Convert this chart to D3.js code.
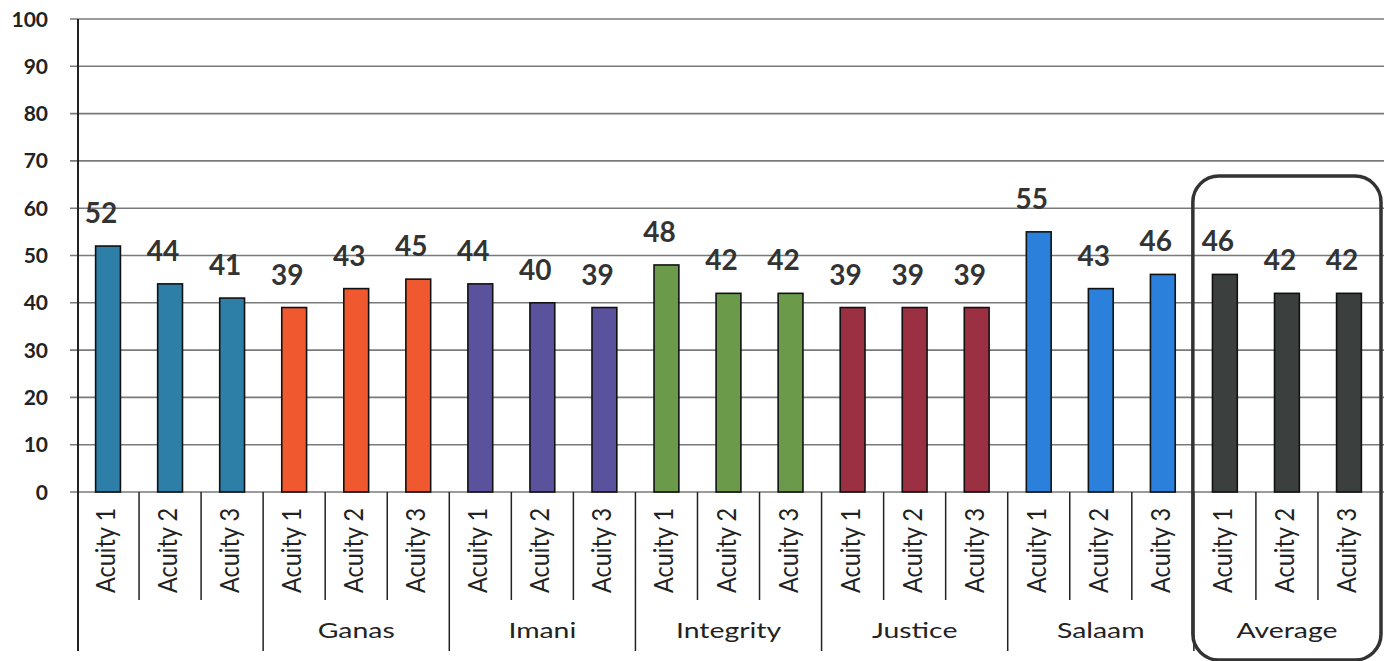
<!DOCTYPE html>
<html><head><meta charset="utf-8">
<script src="https://cdn.jsdelivr.net/npm/d3@7"></script>
<style>body{margin:0;background:#fff;}svg{display:block;font-family:Lato,"Open Sans",sans-serif;}</style>
</head><body>
<svg id="c" width="1386" height="661"></svg>
<script>
const groups = ["", "Ganas", "Imani", "Integrity", "Justice", "Salaam", "Average"];
const subcats = ["Acuity 1", "Acuity 2", "Acuity 3"];
const values = [
  [52, 44, 41],
  [39, 43, 45],
  [44, 40, 39],
  [48, 42, 42],
  [39, 39, 39],
  [55, 43, 46],
  [46, 42, 42]
];
const colors = ["#2E7FA8", "#F0582F", "#5A529C", "#6B9B4A", "#9A3041", "#2A80DA", "#3B403F"];
const yTicks = [0,10,20,30,40,50,60,70,80,90,100];

(function(){
const svg = d3.select("#c");
const mLeft = 77, mRight = 1380, mTop = 19, mBottom = 492;
const cats = [];
groups.forEach((g,gi)=>subcats.forEach((s,si)=>cats.push({g:gi, s:si, key:gi+"-"+si, label:s, v:values[gi][si]})));

const x = d3.scaleBand().domain(cats.map(d=>d.key)).range([mLeft,mRight]).paddingInner(0).paddingOuter(0);
const y = d3.scaleLinear().domain([0,100]).range([mBottom, mTop]);

svg.append("g").selectAll("line").data(yTicks).join("line")
  .attr("x1", 70).attr("x2", 1384)
  .attr("y1", d=>y(d)).attr("y2", d=>y(d))
  .attr("stroke", "#7a7a7a").attr("stroke-width", 1.6);

svg.append("g").selectAll("text").data(yTicks).join("text")
  .attr("x", 48).attr("y", d=>y(d)).attr("dy", "0.36em")
  .attr("text-anchor", "end").attr("font-weight", "bold").attr("font-size", 21)
  .attr("fill", "#222").text(d=>d);

svg.append("line").attr("x1", mLeft+1).attr("x2", mLeft+1).attr("y1", mTop).attr("y2", 651)
  .attr("stroke", "#222").attr("stroke-width", 2);

const bw = x.bandwidth()*0.4;
svg.append("g").selectAll("rect").data(cats).join("rect")
  .attr("x", d=>x(d.key)+x.bandwidth()/2-bw/2)
  .attr("width", bw)
  .attr("y", d=>y(d.v))
  .attr("height", d=>y(0)-y(d.v))
  .attr("fill", d=>colors[d.g])
  .attr("stroke", "#111").attr("stroke-width", 1.6);

svg.append("g").selectAll("text").data(cats).join("text")
  .attr("x", d=>x(d.key)+x.bandwidth()/2-7)
  .attr("y", d=>y(d.v)-23)
  .attr("text-anchor", "middle").attr("font-weight", "bold").attr("font-size", 28)
  .attr("fill", "#333").text(d=>d.v);

const bounds = d3.range(1, cats.length).map(i=>({i, xp: x(cats[i].key), major: i%3===0}));
svg.append("g").selectAll("line").data(bounds).join("line")
  .attr("x1", d=>d.xp).attr("x2", d=>d.xp)
  .attr("y1", mBottom).attr("y2", d=>d.major?651:600)
  .attr("stroke", "#222").attr("stroke-width", 1.5);

svg.append("g").selectAll("text").data(cats).join("text")
  .attr("transform", d=>`translate(${x(d.key)+x.bandwidth()/2+7},508) scale(1.18,1) rotate(-90)`)
  .attr("text-anchor", "end").attr("font-size", 23.5).attr("fill", "#222")
  .text(d=>d.label);

svg.append("g").selectAll("text").data(groups.map((g,i)=>({g,i}))).join("text")
  .attr("transform", d=>`translate(${(x(d.i+"-0")+x(d.i+"-2")+x.bandwidth())/2},638) scale(1.29,1)`)
  .attr("text-anchor", "middle").attr("font-size", 22).attr("fill", "#222")
  .text(d=>d.g);

const ax0 = x("6-0"), ax1 = x("6-2")+x.bandwidth();
svg.append("rect").attr("x", ax0-1).attr("y", 176).attr("width", ax1-ax0+2).attr("height", 484)
  .attr("rx", 26).attr("ry", 26).attr("fill", "none").attr("stroke", "#333").attr("stroke-width", 3.5);
})();
</script>
</body></html>
